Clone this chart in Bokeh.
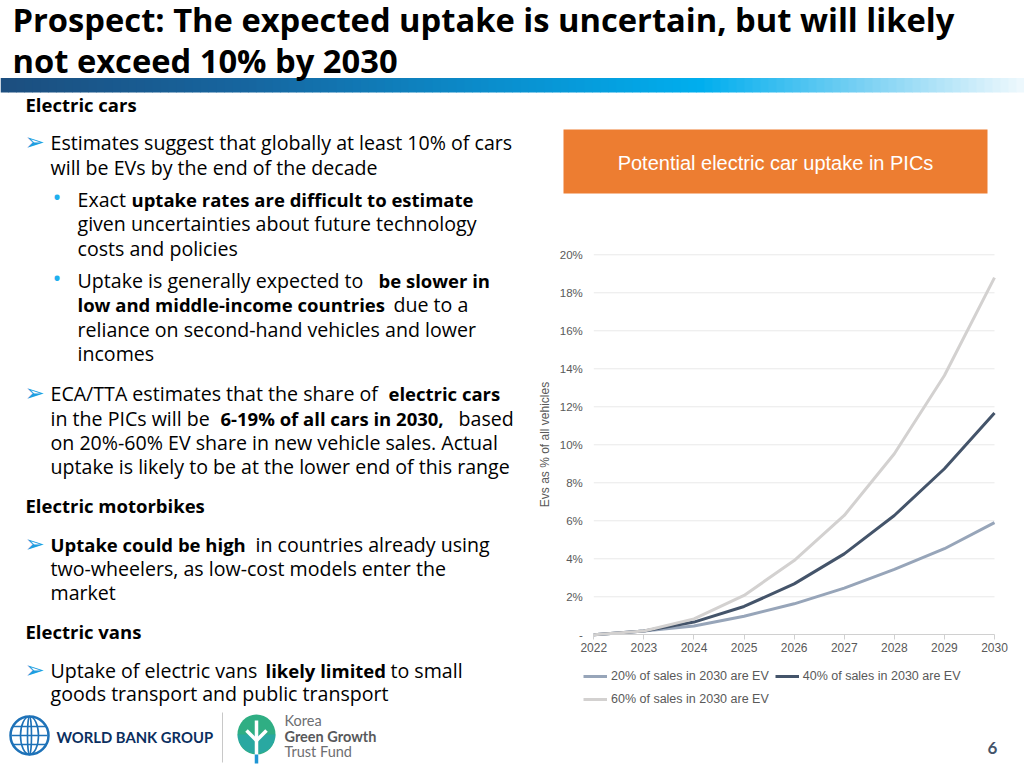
import numpy as np
from bokeh.plotting import figure
from bokeh.models import (Range1d, LinearAxis, FixedTicker, CustomJSTickFormatter,
                          Legend, LegendItem)
from bokeh.core.properties import value
from bokeh.embed import file_html
from bokeh.resources import INLINE

# ---------------- chart data ----------------
years = [2022, 2023, 2024, 2025, 2026, 2027, 2028, 2029, 2030]
ev_share_20 = [0.0, 0.2, 0.46, 0.98, 1.63, 2.46, 3.44, 4.53, 5.9]
ev_share_40 = [0.0, 0.2, 0.67, 1.49, 2.68, 4.26, 6.28, 8.74, 11.68]
ev_share_60 = [0.0, 0.2, 0.84, 2.07, 3.91, 6.28, 9.53, 13.65, 18.8]
series_labels = ["20% of sales in 2030 are EV",
                 "40% of sales in 2030 are EV",
                 "60% of sales in 2030 are EV"]
pct_ticks = [0, 2, 4, 6, 8, 10, 12, 14, 16, 18, 20]
chart_title = "Potential electric car uptake in PICs"
y_axis_title = "Evs as % of all vehicles"

# ---------------- slide text ----------------
title_lines = ["Prospect: The expected uptake is uncertain, but will likely",
               "not exceed 10% by 2030"]
# (text, bold) segments per line
body_lines = [
    [("Electric cars", True)],
    [("Estimates suggest that globally at least 10% of cars", False)],
    [("will be EVs by the end of the decade", False)],
    [("Exact ", False), ("uptake rates are difficult to estimate", True)],
    [("given uncertainties about future technology", False)],
    [("costs and policies", False)],
    [("Uptake is generally expected to ", False), ("be slower in", True)],
    [("low and middle-income countries", True), ("due to a", False)],
    [("reliance on second-hand vehicles and lower", False)],
    [("incomes", False)],
    [("ECA/TTA estimates that the share of ", False), ("electric cars", True)],
    [("in the PICs will be ", False), ("6-19% of all cars in 2030,", True), ("based", False)],
    [("on 20%-60% EV share in new vehicle sales. Actual", False)],
    [("uptake is likely to be at the lower end of this range", False)],
    [("Electric motorbikes", True)],
    [("Uptake could be high", True), ("in countries already using", False)],
    [("two-wheelers, as low-cost models enter the", False)],
    [("market", False)],
    [("Electric vans", True)],
    [("Uptake of electric vans ", False), ("likely limited", True), ("to small", False)],
    [("goods transport and public transport", False)],
]
# layout: text anchor y and x of each segment (slide pixels)
body_layout = [
    (111, [25]), (149, [50]), (174, [50]), (206, [77, 131]), (230, [77]), (255, [77]),
    (287, [77, 378]), (311, [77, 393]), (336, [77]), (360, [77]),
    (400, [50, 388]), (425, [50, 220, 458]), (449, [50]), (473, [50]),
    (512, [25]), (551, [50, 255]), (575, [50]), (599, [50]), (638, [25]),
    (677, [50, 265, 390]), (700, [50]),
]
BODY_DY = -7
arrow_lines = [1, 10, 15, 19]
dot_lines = [3, 6]

W, H = 1024, 768
p = figure(width=W, height=H, x_range=Range1d(0, W), y_range=Range1d(H, 0),
           x_axis_type=None, y_axis_type=None, output_backend="svg",
           toolbar_location=None, min_border=0, outline_line_color=None,
           background_fill_color="white", border_fill_color="white")

# ---------------- chart placement (slide pixels) ----------------
X_START, X_END = 593.3, 994.0      # 2022 / 2030
Y_ZERO, Y_TOP = 634.3, 254.3       # 0% / 20%
ypp = (years[-1] - years[0]) / (X_END - X_START)
ppp = (pct_ticks[-1] - pct_ticks[0]) / (Y_ZERO - Y_TOP)
p.extra_x_ranges = {"yr": Range1d(years[0] - X_START * ypp,
                                  years[-1] + (W - X_END) * ypp)}
p.extra_y_ranges = {"pct": Range1d(pct_ticks[0] - (H - Y_ZERO) * ppp,
                                   pct_ticks[-1] + Y_TOP * ppp)}

# gridlines
gl = [t for t in pct_ticks if t > 0]
p.segment(x0=[years[0]] * len(gl), x1=[years[-1]] * len(gl), y0=gl, y1=gl,
          x_range_name="yr", y_range_name="pct", line_color="#e9e9e9", line_width=1)

# axes
xax = LinearAxis(x_range_name="yr", y_range_name="pct", fixed_location=0,
                 ticker=FixedTicker(ticks=years), bounds=(years[0], years[-1]))
xax.axis_line_color = "#d0d0d0"
xax.major_tick_line_color = "#d0d0d0"
xax.major_tick_out = 5
xax.major_tick_in = 0
xax.minor_tick_line_color = None
xax.major_label_standoff = 3
xax.major_label_text_font = "Liberation Sans"
xax.major_label_text_font_size = "12px"
xax.major_label_text_color = "#595959"
p.add_layout(xax, "below")

yax = LinearAxis(x_range_name="yr", y_range_name="pct", fixed_location=years[0],
                 ticker=FixedTicker(ticks=pct_ticks), bounds=(0, 20),
                 formatter=CustomJSTickFormatter(code="return tick == 0 ? '-' : tick + '%';"))
yax.axis_line_color = None
yax.major_tick_line_color = None
yax.minor_tick_line_color = None
yax.major_tick_out = 0
yax.major_tick_in = 0
yax.major_label_standoff = 11
yax.major_label_text_font = "Liberation Sans"
yax.major_label_text_font_size = "11.5px"
yax.major_label_text_color = "#595959"
yax.axis_label = y_axis_title
yax.axis_label_text_font = "Liberation Sans"
yax.axis_label_text_font_size = "12px"
yax.axis_label_text_font_style = "normal"
yax.axis_label_text_color = "#595959"
yax.axis_label_standoff = 4
p.add_layout(yax, "left")

colors = ["#97a5b9", "#44546a", "#d3d1d0"]
rs = []
for ys, c in zip([ev_share_20, ev_share_40, ev_share_60], colors):
    rs.append(p.line(years, ys, x_range_name="yr", y_range_name="pct",
                     line_color=c, line_width=3, line_join="round"))

def make_legend(items, loc):
    lg = Legend(items=items, location=loc, orientation="horizontal")
    lg.background_fill_alpha = 0
    lg.border_line_color = None
    lg.padding = 0
    lg.margin = 0
    lg.spacing = 6
    lg.glyph_width = 24
    lg.glyph_height = 18
    lg.label_height = 18
    lg.label_standoff = 4
    lg.label_text_font = "Liberation Sans"
    lg.label_text_font_size = "12.5px"
    lg.label_text_color = "#595959"
    return lg

p.add_layout(make_legend([LegendItem(label=series_labels[0], renderers=[rs[0]]),
                          LegendItem(label=series_labels[1], renderers=[rs[1]])], (583, 83)))
p.add_layout(make_legend([LegendItem(label=series_labels[2], renderers=[rs[2]])], (583, 60)))

# chart title box
p.quad(left=[563], right=[987], top=[129], bottom=[193], fill_color="#ED7D31", line_color=None)
p.text(x=[775], y=[162], text=[chart_title], text_align="center", text_baseline="middle",
       text_color="white", text_font=value("Liberation Sans"), text_font_size="20px")

# ---------------- slide decoration ----------------
stops_x = [0, 250, 500, 700, 860, 1024]
stops_c = np.array([(28, 78, 126), (22, 102, 160), (10, 143, 206), (0, 174, 238),
                    (120, 208, 243), (240, 249, 253)], dtype=float)
edges = np.linspace(0, 1024, 129)
mids = (edges[:-1] + edges[1:]) / 2
cols = []
for m in mids:
    rgb = [int(round(np.interp(m, stops_x, stops_c[:, k]))) for k in range(3)]
    cols.append("#%02x%02x%02x" % tuple(rgb))
p.quad(left=edges[:-1], right=edges[1:] + 0.5, top=77.5, bottom=92,
       fill_color=cols, line_color=None)

# title
p.text(x=[12, 12], y=[19, 60], text=title_lines, text_baseline="alphabetic",
       text_font=value("Open Sans"), text_font_style="bold", text_font_size="32.7px",
       text_color="black")

# body
nx, ny, nt, bx, by, bt = [], [], [], [], [], []
for segs, (base, xs) in zip(body_lines, body_layout):
    for (t, b), x in zip(segs, xs):
        if b:
            bx.append(x); by.append(base + BODY_DY); bt.append(t)
        else:
            nx.append(x); ny.append(base + BODY_DY); nt.append(t)
BODY_FONT = value("Open Sans")
p.text(x=nx, y=ny, text=nt, text_baseline="alphabetic", text_font=BODY_FONT,
       text_font_size="19.6px", text_color="black")
p.text(x=bx, y=by, text=bt, text_baseline="alphabetic", text_font=BODY_FONT,
       text_font_style="bold", text_font_size="18.5px", text_color="black")
p.text(x=[24] * len(arrow_lines), y=[body_layout[i][0] + BODY_DY - 1 for i in arrow_lines],
       text=["\u27a2"] * len(arrow_lines), text_baseline="alphabetic",
       text_font=value("DejaVu Sans"), text_font_size="24px", text_color="#1f9ee0")
p.text(x=[52] * len(dot_lines), y=[body_layout[i][0] + BODY_DY - 3 for i in dot_lines],
       text=["\u2022"] * len(dot_lines), text_baseline="alphabetic",
       text_font=value("Open Sans"), text_font_size="24px", text_color="#1fb0ee")

# World Bank logo
p.ellipse(x=[29], y=[735], width=[38], height=[38], fill_color=None,
          line_color="#1e72b8", line_width=2.5)
p.ellipse(x=[29, 29], y=[735, 735], width=[18, 4], height=[38, 38], fill_color=None,
          line_color="#1e72b8", line_width=1.6)
p.segment(x0=[12, 11, 12], x1=[46, 47, 46], y0=[726, 735, 744], y1=[726, 735, 744],
          line_color="#1e72b8", line_width=1.6)
p.text(x=[56], y=[736], text=["WORLD BANK GROUP"], text_baseline="alphabetic",
       text_font=value("Lato"), text_font_style="bold", text_font_size="14.8px",
       text_color="#0b2f5f")
p.segment(x0=[222], x1=[222], y0=[712], y1=[762], line_color="#c8c8c8", line_width=1)

# KGGTF logo
p.ellipse(x=[256], y=[734], width=[38], height=[40], fill_color="#2fae83", line_color=None)
p.wedge(x=[256], y=[734], radius=19, start_angle=np.pi, end_angle=2 * np.pi,
        fill_color="#27a3b5", line_color=None, fill_alpha=0.6)
p.segment(x0=[256, 256, 256], x1=[256, 246, 266], y0=[760, 740, 740], y1=[720, 730, 730],
          line_color="white", line_width=3.5)
p.segment(x0=[256], x1=[256], y0=[754], y1=[763], line_color="#1e95d4", line_width=3.5)
p.text(x=[284, 284, 284], y=[720, 736, 751], text=["Korea", "Green Growth", "Trust Fund"],
       text_baseline="alphabetic", text_font=value("Lato"),
       text_font_style=["normal", "bold", "normal"], text_font_size="14.5px",
       text_color=["#6d6e71", "#58595b", "#6d6e71"])

# page number
p.text(x=[992], y=[747], text=["6"], text_align="center", text_baseline="alphabetic",
       text_font=value("Lato"), text_font_style="bold", text_font_size="17px",
       text_color="#44546a")

open("out.html", "w").write(file_html(p, INLINE))
